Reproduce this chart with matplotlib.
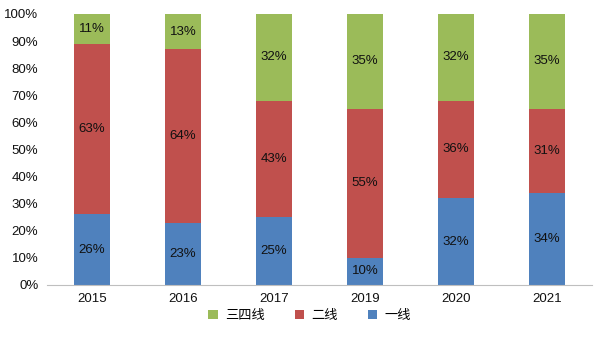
import matplotlib
matplotlib.use("Agg")
import matplotlib.pyplot as plt
import numpy as np

plt.rcParams['font.family'] = ['Liberation Sans', 'Noto Sans CJK SC', 'DejaVu Sans']

years = ['2015', '2016', '2017', '2019', '2020', '2021']
tier1 = [26, 23, 25, 10, 32, 34]        # 一线
tier2 = [63, 64, 43, 55, 36, 31]        # 二线
tier34 = [11, 13, 32, 35, 32, 35]       # 三四线
series_names = ['一线', '二线', '三四线']
colors = ['#4F81BD', '#C0504D', '#9BBB59']

fig = plt.figure(figsize=(6.05, 3.4), dpi=100)
ax = fig.add_axes([0.077, 0.162, 0.902, 0.797])

x = np.arange(len(years))
bottom = np.zeros(len(years))
handles = []
for vals, name, c in zip([tier1, tier2, tier34], series_names, colors):
    vals = np.array(vals, dtype=float)
    bars = ax.bar(x, vals, 0.4, bottom=bottom, color=c, label=name, zorder=2)
    handles.append(bars)
    for xi, b, v in zip(x, bottom, vals):
        ax.text(xi, b + v / 2, f'{int(v)}%', ha='center', va='center',
                fontsize=9.5, color='#111111')
    bottom += vals

ax.set_xlim(-0.5, len(years) - 0.5)
ax.set_ylim(0, 100)
ax.set_yticks(np.arange(0, 101, 10))
ax.set_yticklabels([f'{v}%' for v in range(0, 101, 10)])
ax.set_xticks(x)
ax.set_xticklabels(years)
ax.tick_params(axis='both', length=0, labelsize=9.5, colors='#111111')
ax.tick_params(axis='x', pad=6)
ax.tick_params(axis='y', pad=6)
for s in ['top', 'right', 'left']:
    ax.spines[s].set_visible(False)
ax.spines['bottom'].set_color('#BFBFBF')

leg = fig.legend(handles[::-1], series_names[::-1], loc='center',
                 bbox_to_anchor=(0.512, 0.07), ncol=3, frameon=False,
                 fontsize=9.5, handlelength=0.7, handleheight=0.7,
                 columnspacing=2.3, handletextpad=0.55)

fig.savefig('out.png', dpi=100)
